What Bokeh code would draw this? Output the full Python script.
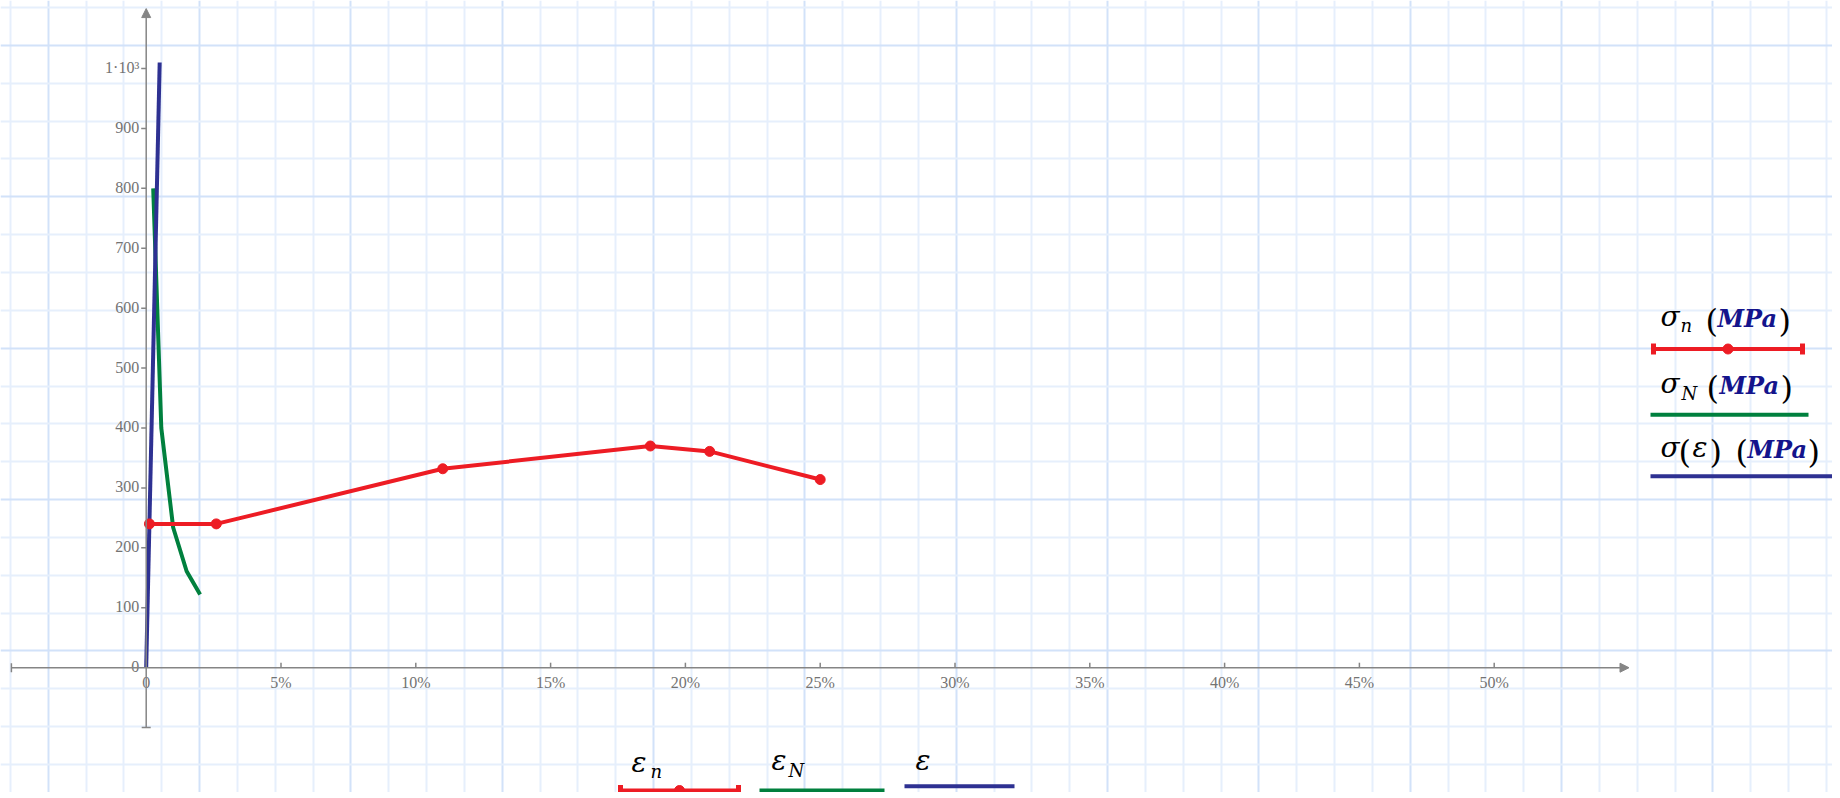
import numpy as np
from bokeh.plotting import figure
from bokeh.models import Arrow, NormalHead, Grid, FixedTicker, Range1d
from bokeh.core.properties import value
from bokeh.embed import file_html
from bokeh.resources import INLINE

# ---------------- data ----------------
strain_n = [0.12, 2.6, 11.0, 18.7, 20.9, 25.0]      # %  (eps_n)
stress_n = [240, 240, 332, 370, 361, 314]           # MPa (sigma_n)
strain_N = [0.26, 0.56, 1.0, 1.5, 2.0]              # %  (eps_N)
stress_N = [800, 400, 234, 161, 122]                # MPa (sigma_N)
strain_lin = [0.0, 0.5]                             # %  (eps)
stress_lin = [0, 1010]                              # MPa (sigma(eps))

x_ticks = [0, 5, 10, 15, 20, 25, 30, 35, 40, 45, 50]
x_tick_labels = ["0", "5%", "10%", "15%", "20%", "25%", "30%", "35%", "40%", "45%", "50%"]
y_ticks = [0, 100, 200, 300, 400, 500, 600, 700, 800, 900, 1000]
y_tick_labels = ["0", "100", "200", "300", "400", "500", "600", "700", "800", "900", "1\u00b710\u00b3"]
x_axis_ends = [-5, 55]
y_axis_ends = [-100, 1100]

# ---------------- styles ----------------
RED = "#ED1C24"
GREEN = "#00803E"
BLUE = "#2E3192"
UNIT = "#14148C"
AX = "#858585"
LBL = "#737373"
GRID_L = "#e6effc"
GRID_D = "#d2e2f9"

W, H = 1832, 792
OFF = 0
PX0, SX = 145.7, 26.96      # picture px of x=0, px per %
PY0, SY = 667.2, 0.5992     # picture px of y=0, px per MPa
BASE_K = 0.38               # baseline correction (fraction of font size)


def X(px):
    return (px - PX0) / SX


def Y(py):
    return (PY0 - py) / SY


p = figure(width=W, height=H, title=None,
           x_range=Range1d(X(OFF), X(OFF + W)), y_range=Range1d(Y(OFF + H), Y(OFF)),
           x_axis_type=None, y_axis_type=None, output_backend="svg",
           toolbar_location=None, min_border=0, outline_line_color=None,
           background_fill_color="white", border_fill_color="white")

# worksheet grid (page decoration)
kx = np.arange(0, 49)
gx = [X(10 + 37.83 * k) for k in kx]
ky = np.arange(0, 22)
gy = [Y(7 + 37.85 * k) for k in ky]
for dim, vals in ((0, gx), (1, gy)):
    light = [v for i, v in enumerate(vals) if i % 4 != 1]
    dark = [v for i, v in enumerate(vals) if i % 4 == 1]
    p.add_layout(Grid(dimension=dim, ticker=FixedTicker(ticks=light),
                      grid_line_color=GRID_L, grid_line_width=2))
    p.add_layout(Grid(dimension=dim, ticker=FixedTicker(ticks=dark),
                      grid_line_color=GRID_D, grid_line_width=2))

# axes (crossing at the origin, Mathcad style)
p.add_layout(Arrow(end=NormalHead(size=9, fill_color=AX, line_color=AX, line_width=1),
                   x_start=x_axis_ends[0], y_start=0, x_end=x_axis_ends[1], y_end=0,
                   line_color=AX, line_width=1.5))
p.add_layout(Arrow(end=NormalHead(size=9, fill_color=AX, line_color=AX, line_width=1),
                   x_start=0, y_start=y_axis_ends[0], x_end=0, y_end=y_axis_ends[1],
                   line_color=AX, line_width=1.5))
p.ray(x=x_ticks[1:], y=[0] * (len(x_ticks) - 1), length=5, length_units="screen",
      angle=np.pi / 2, line_color=AX, line_width=1.5)
p.ray(x=[0] * (len(y_ticks) - 1), y=y_ticks[1:], length=5, length_units="screen",
      angle=np.pi, line_color=AX, line_width=1.5)
p.scatter(x=[x_axis_ends[0]], y=[0], marker="dash", size=9, angle=np.pi / 2,
          line_color=AX, line_width=1.5)
p.scatter(x=[0], y=[y_axis_ends[0]], marker="dash", size=9, angle=0,
          line_color=AX, line_width=1.5)

TICK_FS = 16
p.text(x=x_ticks, y=[0] * len(x_ticks), text=x_tick_labels, text_align="center",
       text_baseline="alphabetic", y_offset=21 - BASE_K * TICK_FS,
       text_font=value("Liberation Serif"), text_font_size=f"{TICK_FS}px", text_color=LBL)
p.text(x=[0] * len(y_ticks), y=y_ticks, text=y_tick_labels, text_align="right",
       text_baseline="alphabetic", x_offset=-7, y_offset=5 - BASE_K * TICK_FS,
       text_font=value("Liberation Serif"), text_font_size=f"{TICK_FS}px", text_color=LBL)

# series
p.line(strain_N, stress_N, line_color=GREEN, line_width=4, line_join="round")
p.line(strain_lin, stress_lin, line_color=BLUE, line_width=4)
p.line(strain_n, stress_n, line_color=RED, line_width=4, line_join="round")
p.scatter(strain_n, stress_n, size=10, fill_color=RED, line_color=RED)

# ---------------- axis "labels" (Mathcad style legends) ----------------
GREEK = dict(font="DejaVu Serif", style="italic", size=28, color="black")
SUB = dict(font="DejaVu Serif", style="italic", size=18, color="black")
PAR = dict(font="DejaVu Serif", style="normal", size=32, color="black")
UNITS = dict(font="DejaVu Serif", style="bold italic", size=24, color=UNIT)


def t(px, py, s, st):
    p.text(x=[X(px)], y=[Y(py - BASE_K * st["size"])], text=[s],
           text_font=value(st["font"]), text_font_style=st["style"],
           text_font_size=f"{st['size']}px", text_color=st["color"],
           text_baseline="alphabetic")


# y side (right)
t(1660, 327, "\u03c3", GREEK); t(1680, 331.5, "n", SUB)
t(1705, 333, "(", PAR); t(1717, 327, "MPa", UNITS); t(1778, 333, ")", PAR)
t(1660, 394, "\u03c3", GREEK); t(1681, 400, "N", SUB)
t(1706, 400, "(", PAR); t(1719, 394, "MPa", UNITS); t(1780, 400, ")", PAR)
t(1660, 458, "\u03c3", GREEK); t(1678, 464, "(", PAR); t(1692, 458, "\u03b5", GREEK)
t(1709, 464, ")", PAR)
t(1735, 464, "(", PAR); t(1747, 458, "MPa", UNITS); t(1807, 464, ")", PAR)

# x side (bottom)
t(631, 773, "\u03b5", GREEK); t(650, 777.5, "n", SUB)
t(771, 771, "\u03b5", GREEK); t(788, 776.5, "N", SUB)
t(915, 771, "\u03b5", GREEK)


def sample(x0, x1, py, color, markers):
    p.line([X(x0), X(x1)], [Y(py), Y(py)], line_color=color, line_width=4)
    if markers:
        p.rect(x=[X(x0 + 2), X(x1 - 2)], y=[Y(py), Y(py)], width=5, height=11,
               width_units="screen", height_units="screen", fill_color=color, line_color=None)
        p.scatter([X((x0 + x1) / 2)], [Y(py)], size=10, fill_color=color, line_color=color)


sample(1651, 1804, 348.5, RED, True)
sample(1650, 1808, 414.3, GREEN, False)
sample(1650, 1833, 475.7, BLUE, False)
sample(618, 740, 790, RED, True)
sample(759, 884, 790, GREEN, False)
sample(904, 1014, 785.7, BLUE, False)

open("out.html", "w").write(file_html(p, INLINE))
